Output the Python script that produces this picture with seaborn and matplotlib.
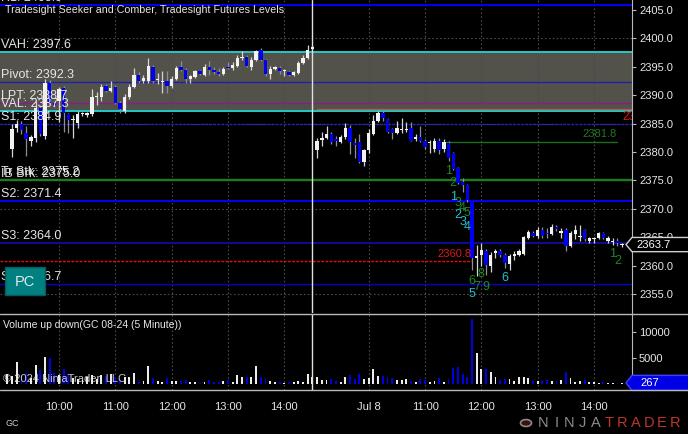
import numpy as np
import pandas as pd
import matplotlib
matplotlib.use("Agg")
from matplotlib import pyplot as plt
from matplotlib import transforms
from matplotlib.lines import Line2D
from matplotlib.patches import Rectangle, Polygon, Circle
import seaborn as sns

# GC 08-24, 5 minute bars, two sessions (09:05 - 14:30)
session_days = ["2024-07-05", "2024-07-08"]
bars_per_session = 66

d1_open = [np.nan, 2380.6, 2384.2, 2385.0, 2383.4, 2382.0, 2382.4, 2387.8, 2382.8, 2392.2,
           2388.7, 2389.0, 2391.2, 2386.7, 2385.6, 2385.1, 2386.6, 2386.5, 2386.7, 2389.6,
           2389.6, 2391.6, 2390.8, 2391.5, 2388.7, 2387.3, 2389.6, 2391.5, 2393.6, 2392.5,
           2392.5, 2395.0, 2392.6, 2392.3, 2392.5, 2391.7, 2392.9, 2395.0, 2394.5, 2392.9,
           2393.2, 2394.2, 2393.6, 2395.0, 2394.5, 2394.1, 2393.8, 2394.9, 2394.8, 2395.2,
           2396.5, 2396.8, 2395.0, 2396.2, 2398.0, 2396.2, 2393.8, 2394.6, 2394.8, 2394.3,
           2394.1, 2393.5, 2393.9, 2395.7, 2396.6, 2398.1]
d1_high = [np.nan, 2384.9, 2385.6, 2385.4, 2384.5, 2383.0, 2389.0, 2388.3, 2392.8, 2392.6,
           2389.0, 2391.5, 2391.6, 2386.8, 2386.5, 2387.2, 2387.0, 2387.0, 2391.1, 2390.5,
           2392.0, 2392.0, 2392.5, 2391.8, 2389.0, 2390.2, 2392.0, 2394.8, 2394.0, 2393.5,
           2396.6, 2395.3, 2393.9, 2394.3, 2394.3, 2393.3, 2395.2, 2396.0, 2394.8, 2393.6,
           2394.5, 2394.5, 2395.5, 2396.1, 2394.9, 2394.8, 2394.9, 2395.9, 2395.9, 2397.0,
           2397.8, 2397.0, 2396.7, 2398.0, 2398.3, 2396.4, 2395.1, 2395.1, 2395.1, 2394.6,
           2394.3, 2394.3, 2396.0, 2397.0, 2398.9, 2398.9]
d1_low = [np.nan, 2379.2, 2383.6, 2383.2, 2379.3, 2381.1, 2381.8, 2382.8, 2382.3, 2388.2,
          2387.9, 2385.2, 2383.6, 2383.4, 2382.5, 2384.3, 2386.3, 2386.2, 2386.3, 2388.3,
          2389.0, 2390.5, 2390.5, 2388.4, 2386.9, 2386.8, 2389.3, 2391.2, 2392.2, 2392.2,
          2392.2, 2392.2, 2392.0, 2390.4, 2390.4, 2391.3, 2392.6, 2394.3, 2392.2, 2392.2,
          2393.0, 2393.5, 2393.3, 2393.6, 2393.8, 2393.4, 2393.6, 2394.6, 2394.4, 2395.0,
          2396.2, 2395.0, 2394.5, 2396.0, 2396.0, 2393.3, 2392.9, 2394.4, 2393.8, 2393.4,
          2393.3, 2393.3, 2393.7, 2395.5, 2396.4, 2398.0]
d1_close = [np.nan, 2384.1, 2385.0, 2383.8, 2382.3, 2382.7, 2387.8, 2383.2, 2392.2, 2388.7,
            2388.3, 2391.1, 2386.9, 2385.6, 2385.8, 2386.7, 2386.8, 2386.8, 2389.6, 2389.8,
            2391.5, 2390.8, 2391.3, 2388.7, 2387.6, 2389.7, 2391.5, 2393.6, 2392.5, 2393.1,
            2395.2, 2392.5, 2392.9, 2392.4, 2391.6, 2392.9, 2394.8, 2394.5, 2392.9, 2393.3,
            2394.2, 2393.8, 2395.0, 2394.5, 2394.1, 2393.8, 2394.6, 2394.8, 2395.4, 2396.6,
            2396.8, 2395.2, 2396.2, 2397.8, 2396.2, 2393.8, 2394.6, 2394.9, 2394.2, 2394.4,
            2393.6, 2394.1, 2395.7, 2396.6, 2398.0, 2398.5]

d2_open = [2380.3, 2382.1, 2382.5, 2383.2, 2382.2, 2381.8, 2382.6, 2384.2, 2381.6, 2381.7,
           2378.2, 2380.4, 2383.1, 2385.5, 2386.8, 2385.8, 2384.0, 2383.4, 2383.9, 2383.9,
           2384.3, 2382.3, 2382.7, 2382.0, 2381.5, 2380.6, 2382.0, 2380.6, 2381.6, 2379.8,
           2377.1, 2374.7, 2374.2, 2371.5, 2361.3, 2361.8, 2362.6, 2359.9, 2362.2, 2362.5,
           2361.8, 2360.2, 2361.6, 2361.8, 2362.0, 2364.9, 2365.8, 2365.2, 2366.2, 2365.6,
           2365.6, 2366.8, 2365.8, 2366.3, 2363.4, 2365.6, 2365.0, 2366.2, 2364.4, 2364.6,
           2364.8, 2365.7, 2364.3, 2364.2, 2364.4, 2363.6]
d2_high = [2382.5, 2383.6, 2384.6, 2383.5, 2382.8, 2383.0, 2385.1, 2384.8, 2382.5, 2383.2,
           2380.6, 2384.0, 2386.5, 2387.3, 2387.3, 2386.0, 2384.3, 2385.5, 2386.0, 2385.2,
           2385.2, 2383.2, 2384.5, 2382.3, 2382.1, 2382.5, 2382.5, 2382.2, 2382.0, 2380.0,
           2377.3, 2375.5, 2374.4, 2371.6, 2363.6, 2363.9, 2363.0, 2362.4, 2363.0, 2363.0,
           2362.2, 2362.0, 2362.6, 2363.0, 2365.2, 2366.3, 2366.1, 2366.8, 2366.8, 2366.6,
           2367.3, 2367.2, 2366.6, 2366.6, 2366.1, 2367.1, 2367.2, 2366.4, 2365.1, 2365.0,
           2365.9, 2365.9, 2365.2, 2364.8, 2364.9, 2363.9]
d2_low = [2378.9, 2381.0, 2382.3, 2381.4, 2381.0, 2381.6, 2382.3, 2379.6, 2378.9, 2378.0,
          2377.6, 2379.9, 2383.0, 2385.3, 2385.4, 2383.3, 2382.3, 2383.2, 2383.4, 2383.6,
          2381.9, 2382.0, 2381.7, 2380.6, 2379.8, 2380.0, 2379.6, 2380.0, 2378.5, 2376.8,
          2374.3, 2373.0, 2371.2, 2359.2, 2358.2, 2360.0, 2358.4, 2358.9, 2361.3, 2361.5,
          2359.6, 2359.3, 2361.0, 2361.6, 2361.9, 2364.6, 2365.0, 2364.9, 2364.9, 2364.9,
          2365.3, 2366.1, 2364.9, 2362.6, 2363.3, 2364.6, 2364.4, 2364.3, 2364.0, 2364.0,
          2364.6, 2364.6, 2363.9, 2363.6, 2363.5, 2363.3]
d2_close = [2382.0, 2382.4, 2383.2, 2381.8, 2381.9, 2382.7, 2384.2, 2381.8, 2381.3, 2378.3,
            2380.3, 2383.3, 2385.5, 2386.9, 2386.0, 2383.6, 2383.4, 2384.3, 2384.0, 2384.0,
            2382.0, 2382.7, 2382.0, 2380.8, 2381.6, 2382.0, 2380.3, 2381.8, 2379.0, 2377.0,
            2374.6, 2374.2, 2371.5, 2361.4, 2361.6, 2362.8, 2360.1, 2361.8, 2362.5, 2361.8,
            2360.4, 2361.6, 2362.0, 2362.5, 2365.0, 2365.9, 2365.2, 2366.2, 2365.2, 2365.5,
            2366.8, 2366.4, 2365.9, 2363.4, 2365.7, 2366.3, 2365.1, 2364.6, 2364.8, 2364.7,
            2365.7, 2364.8, 2364.8, 2364.3, 2363.9, 2363.7]

d1_volume = [2000, 1500, 4350, 1800, 2200, 1200, 3700, 2750, 5300, 5000,
             2100, 1700, 2900, 1900, 1300, 1100, 900, 1400, 1700, 1000,
             1800, 1500, 1900, 1400, 900, 1460, 1460, 2110, 510, 700,
             3520, 1150, 640, 510, 1280, 700, 700, 700, 830, 380,
             380, 320, 380, 830, 510, 510, 700, 830, 380, 1790,
             1470, 1350, 1470, 3520, 1470, 1280, 700, 510, 380, 190,
             380, 510, 700, 510, 1920, 1460]
d2_volume = [1460, 830, 830, 960, 640, 380, 1350, 1800, 960, 1990,
             1090, 1150, 2880, 1600, 1600, 1350, 1150, 830, 830, 1030,
             700, 510, 960, 830, 510, 640, 1150, 510, 960, 3200,
             3400, 2050, 1410, 12600, 6100, 2880, 2950, 2370, 1350, 830,
             960, 1030, 640, 1410, 1410, 1150, 640, 640, 700, 830,
             700, 640, 830, 2430, 1150, 510, 640, 830, 380, 380,
             190, 380, 190, 320, 320, 267]

# Tradesight futures levels
level_names = ["R1", "VAH", "Pivot", "LPT", "VAL", "S1", "Tr Stk", "IB Brk", "S2", "S3", "S4"]
level_values = [2405.9, 2397.6, 2392.3, 2388.7, 2387.3, 2384.9, 2375.2, 2375.0, 2371.4, 2364.0, 2356.7]
level_colors = ["#0000ff", "#22c8c8", "#2020a8", "#8b1a8b", "#22c8c8", "#2020c0",
                "#1e7b1e", "#1e7b1e", "#0000ff", "#0c0c98", "#0000d0"]
value_area = (2387.3, 2397.6)
prior_level = 2387.5
comber_level = 2381.8
comber_start = 94
target_level = 2360.8
target_end = 99

# Seeker / Comber counts
count_bars = [94, 95, 96, 97, 98, 99, 100, 101, 102, 129, 130,
              95, 96, 97, 98, 99, 106]
count_prices = [2376.7, 2374.5, 2371.0, 2370.1, 2369.2, 2357.2, 2356.3, 2358.5, 2356.3, 2362.0, 2360.8,
                2372.0, 2368.9, 2367.7, 2366.8, 2355.0, 2357.8]
count_text = ["1", "2", "3", "4", "5", "6", "7", "8", "9", "1", "2",
              "1", "2", "3", "4", "5", "6"]
count_kind = ["comber"] * 11 + ["seeker"] * 6

tick_hours = [10, 11, 12, 13, 14]

# ---------------------------------------------------------------
times = pd.concat([pd.Series(pd.date_range(f"{d} 09:05", periods=bars_per_session, freq="5min"))
                   for d in session_days], ignore_index=True)
bars = pd.DataFrame({
    "time": times,
    "open": d1_open + d2_open,
    "high": d1_high + d2_high,
    "low": d1_low + d2_low,
    "close": d1_close + d2_close,
    "volume": d1_volume + d2_volume,
})
bars["x"] = np.arange(len(bars))
bars["dir"] = np.where(bars["close"] >= bars["open"], "up", "down")
bars.loc[bars["open"].isna(), "dir"] = "up"

ticks = bars[(bars.time.dt.minute == 0) & bars.time.dt.hour.isin(tick_hours)]
tick_pos = ticks.x.tolist()
tick_lab = []
prev_day = None
for t in ticks.time:
    if prev_day is not None and t.date() != prev_day:
        tick_lab.append(f"{t:%b} {t.day}")
    else:
        tick_lab.append(f"{t:%H:%M}")
    prev_day = t.date()

UP = "#f2f2f2"
DOWN = "#0000f0"
TXT = "#e6e6e6"
GRID = "#4a4a4a"

sns.set_style("dark", {"axes.facecolor": "black", "figure.facecolor": "black",
                       "axes.edgecolor": "#b8b8b8", "grid.color": GRID})
plt.rcParams["font.family"] = ["Liberation Sans", "DejaVu Sans"]

W, H = 688, 434
fig = plt.figure(figsize=(W / 100, H / 100), dpi=100)
fig.patch.set_facecolor("black")
ax = fig.add_axes([0, 1 - 313 / H, 632 / W, 313 / H])
axv = fig.add_axes([0, 1 - 390 / H, 632 / W, 76 / H])

xlim = (-1.58, 133.1)

# ---- price panel
ax.set_xlim(*xlim)
ax.set_ylim(2351.65, 2406.76)
ax.axhspan(value_area[0], value_area[1], color="#52524a", zorder=0.5, lw=0)
for g in [2355, 2370, 2385, 2400]:
    ax.axhline(g, color=GRID, ls=(0, (1.5, 2)), lw=0.8, zorder=1)
for xp in tick_pos:
    ax.axvline(xp, color=GRID, ls=(0, (1.5, 2)), lw=0.8, zorder=1)
    axv.axvline(xp, color=GRID, ls=(0, (1.5, 2)), lw=0.8, zorder=1)

blend = transforms.blended_transform_factory(ax.transAxes, ax.transData)
for name, val, col in zip(level_names, level_values, level_colors):
    ls = (0, (2, 1)) if name == "S1" else "-"
    lw = 1.4 if name in ("R1", "S2", "VAH", "VAL", "S3") else 1.0
    ax.axhline(val, color=col, lw=lw, ls=ls, zorder=2)
    ax.text(0.002, val + 0.15, f"{name}: {val:.1f}", transform=blend, ha="left", va="bottom",
            fontsize=9, color=TXT, zorder=6)

last_x = bars.x.iloc[-1]
ax.plot([bars.x.iloc[bars_per_session], xlim[1]], [prior_level, prior_level], color="#b05a48", lw=1, zorder=2)
ax.text(last_x + 0.1, prior_level - 0.2, f"{prior_level:.1f}", ha="left", va="top", fontsize=8.5,
        color="#e01818", clip_on=True, zorder=6)
ax.plot([comber_start - 0.5, last_x - 1.2], [comber_level, comber_level], color="#1e6e1e", lw=1, zorder=2)
ax.text(last_x - 1.2, comber_level + 0.4, f"{comber_level:.1f}", ha="right", va="bottom", fontsize=8,
        color="#1e7b1e", zorder=6)
ax.plot([xlim[0], target_end], [target_level, target_level], color="#e01010", lw=1, ls=(0, (2, 1)), zorder=2)
ax.text(target_end, target_level + 0.4, f"{target_level:.1f}", ha="right", va="bottom", fontsize=8,
        color="#e01818", zorder=6)

# session break
ax.axvline(bars_per_session - 1, color="#e0e0e0", lw=1, zorder=2.5)
axv.axvline(bars_per_session - 1, color="#e0e0e0", lw=1, zorder=2.5)

# candles
c = bars.dropna(subset=["open"])
for d, body_col, wick_col in [("up", UP, "#d4d4d4"), ("down", DOWN, "#8c8c9c")]:
    s = c[c["dir"] == d]
    ax.vlines(s.x, s.low, s.high, color=wick_col, lw=0.9, zorder=3)
    lo = np.minimum(s.open, s.close)
    hgt = np.maximum((s.close - s.open).abs(), 0.2)
    ax.bar(s.x, hgt, bottom=lo, width=0.72, color=body_col, lw=0, zorder=4)

count_colors = {"comber": "#1f8a1f", "seeker": "#22c0d0"}
for xb, pr, tx, kd in zip(count_bars, count_prices, count_text, count_kind):
    ax.text(xb, pr, tx, ha="center", va="center", fontsize=9, color=count_colors[kd], zorder=7)

ax.yaxis.tick_right()
ax.set_yticks(np.arange(2355, 2406, 5))
ax.set_yticklabels([f"{v:.1f}" for v in np.arange(2355, 2406, 5)])
ax.tick_params(axis="y", colors="#b8b8b8", labelcolor=TXT, labelsize=8, length=3, direction="out", pad=2)
ax.set_xticks(tick_pos)
ax.tick_params(axis="x", length=0, labelbottom=False)
for sp in ["top", "left", "bottom"]:
    ax.spines[sp].set_visible(False)
ax.spines["right"].set_color("#b8b8b8")
ax.grid(False)

last_close = bars.close.iloc[-1]
tag = Polygon([(626 / 632, last_close), (1.0, last_close + 1.25), (1.09, last_close + 1.25),
               (1.09, last_close - 1.25), (1.0, last_close - 1.25)], closed=True, transform=blend,
              facecolor="black", edgecolor="#d0d0d0", lw=1, clip_on=False, zorder=10)
ax.add_patch(tag)
ax.text(636 / 632, last_close, f"{last_close:.1f}", transform=blend, ha="left", va="center",
        fontsize=8, color="white", clip_on=False, zorder=11)

# ---- volume panel (seaborn)
sns.barplot(data=bars, x="x", y="volume", hue="dir", palette={"up": "#ececec", "down": "#0000e0"},
            native_scale=True, dodge=False, width=0.4, errorbar=None, legend=False,
            saturation=1, linewidth=0, ax=axv)
axv.set_xlim(*xlim)
axv.set_ylim(-1100, 13520)
axv.set_xlabel("")
axv.set_ylabel("")
axv.yaxis.tick_right()
axv.set_yticks([5000, 10000])
axv.set_yticklabels(["5000", "10000"])
axv.tick_params(axis="y", colors="#b8b8b8", labelcolor=TXT, labelsize=8, length=3, direction="out", pad=2)
axv.set_xticks(tick_pos)
axv.set_xticklabels(tick_lab)
axv.tick_params(axis="x", colors="#b8b8b8", labelcolor=TXT, labelsize=8, length=3, direction="out", pad=6)
for sp in ["top", "left"]:
    axv.spines[sp].set_visible(False)
axv.spines["right"].set_color("#b8b8b8")
axv.spines["bottom"].set_visible(False)
axv.grid(False)

vblend = transforms.blended_transform_factory(axv.transAxes, axv.transData)
last_vol = bars.volume.iloc[-1]
axv.add_patch(Polygon([(626 / 632, last_vol), (1.0, last_vol + 1450), (1.09, last_vol + 1450),
                       (1.09, last_vol - 1450), (1.0, last_vol - 1450)], closed=True, transform=vblend,
                      facecolor="#0000e6", edgecolor="#4040ff", lw=1, clip_on=False, zorder=10))
axv.text(640 / 632, last_vol, f"{last_vol:.0f}", transform=vblend, ha="left", va="center",
         fontsize=8, color="white", clip_on=False, zorder=11)
axv.text(0.005, 0.85, "Volume up down(GC 08-24 (5 Minute))", transform=axv.transAxes, ha="left",
         va="center", fontsize=7.5, color=TXT)
axv.text(0.005, 0.08, "\u00a9 2024 NinjaTrader, LLC", transform=axv.transAxes, ha="left",
         va="bottom", fontsize=8, color="#e8e8e8", alpha=0.85, zorder=6)

# ---- frame lines and overlays
for yp in (313.5, 389.5):
    fig.add_artist(Line2D([0, 1], [1 - yp / H, 1 - yp / H], color="#b8b8b8", lw=1))

fig.text(5 / W, 1 - 10 / H, "Tradesight Seeker and Comber, Tradesight Futures Levels",
         ha="left", va="center", fontsize=7.7, color=TXT)
fig.add_artist(Rectangle((5 / W, 1 - 295 / H), 40 / W, 28 / H, transform=fig.transFigure,
                         facecolor="#008080", edgecolor="#0a5a5a", lw=1, zorder=20))
fig.text(25 / W, 1 - 281.5 / H, "PC", ha="center", va="center", fontsize=10.5, color="#e8e8e8", zorder=21)
fig.text(5 / W, 1 - 423 / H, "GC", ha="left", va="center", fontsize=6.5, color="#cfcfcf")

fig.add_artist(Circle((526 / W, 1 - 423 / H), 5.5 / W, transform=fig.transFigure,
                      facecolor="#3a1010", edgecolor="#8a8a8a", lw=1.2))
for k, ch in enumerate("NINJATRADER"):
    fig.text((543 + k * 13.2) / W, 1 - 423 / H, ch, ha="center", va="center", fontsize=10.5,
             color="#8c8c8c" if k < 5 else "#c0352b")

fig.savefig("out.png", dpi=100, facecolor="black")
